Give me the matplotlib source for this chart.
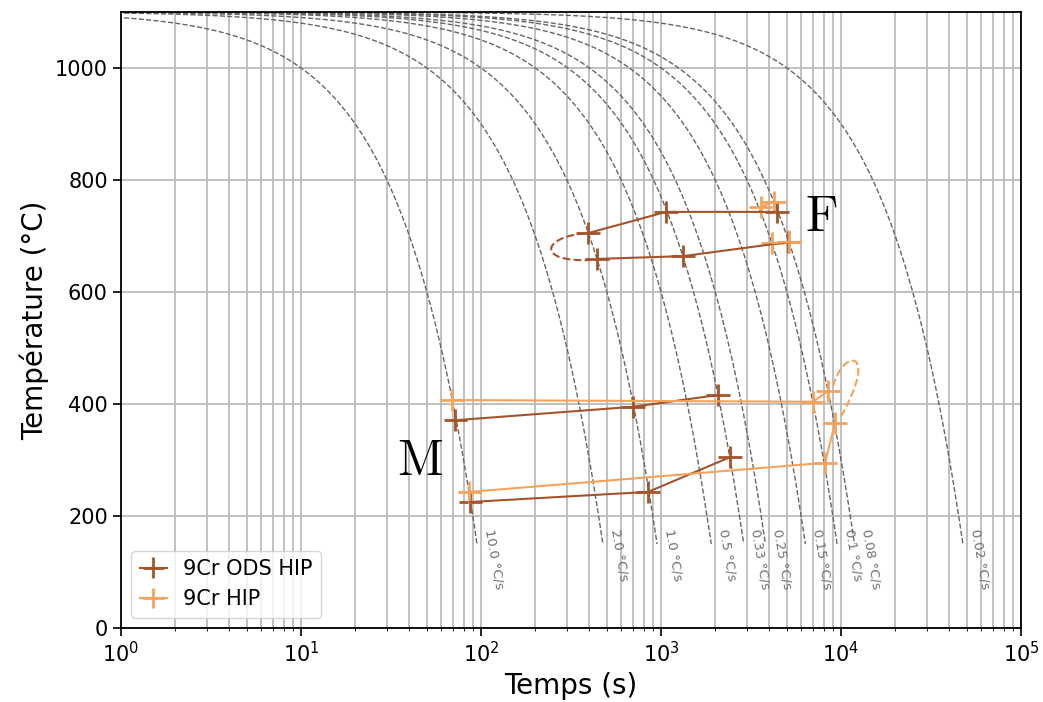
import matplotlib
matplotlib.use("Agg")
import matplotlib.pyplot as plt
import numpy as np
from matplotlib.path import Path
from matplotlib.patches import PathPatch

# cooling rates (°C/s) and their labels
rates = [10.0, 2.0, 1.0, 0.5, 0.33, 0.25, 0.15, 0.1, 0.08, 0.02]
rate_labels = ["10.0", "2.0", "1.0", "0.5", "0.33", "0.25", "0.15", "0.1", "0.08", "0.02"]
T_start = 1100
T_end = 150

# 9Cr ODS HIP (start / end of transformations)
ods_f_up_t = [393, 1066, 4408]
ods_f_up_T = [705, 743, 743]
ods_f_lo_t = [441, 1325, 5080]
ods_f_lo_T = [659, 664, 689]
ods_m_up_t = [72, 699, 2074]
ods_m_up_T = [371, 395, 416]
ods_m_lo_t = [87, 847, 2416]
ods_m_lo_T = [225, 243, 305]

# 9Cr HIP
hip_f_up_t = [3580, 4245]
hip_f_up_T = [752, 761]
hip_f_lo_t = [4140, 5150]
hip_f_lo_T = [687, 690]
hip_m_up_t = [69, 6984, 8467]
hip_m_up_T = [407, 404, 423]
hip_m_lo_t = [9261, 8150, 86]
hip_m_lo_T = [366, 295, 243]

# dashed closing curves (bezier control points, t / T)
ods_loop_t = [378, 215, 205, 403]
ods_loop_T = [705, 697, 653, 657]
hip_loop_t = [9030, 10300, 16500, 9870]
hip_loop_T = [432, 500, 500, 375]

x_err_factor = 1.16
T_err = 20

c_ods = "#a3542b"
c_hip = "#f5a35c"


def errbar(ax, t, T, color, label=None):
    t = np.array(t, dtype=float)
    xerr = [t - t / x_err_factor, t * x_err_factor - t]
    ax.errorbar(t, T, xerr=xerr, yerr=T_err, color=color, lw=1.5,
                elinewidth=2, capsize=0, label=label, zorder=3)


def loop(ax, t, T, color):
    verts = list(zip(t, T))
    path = Path(verts, [Path.MOVETO, Path.CURVE4, Path.CURVE4, Path.CURVE4])
    ax.add_patch(PathPatch(path, fill=False, ec=color, lw=1.5, ls="--", zorder=3))


fig = plt.figure(figsize=(10.43, 7.02), dpi=100)
ax = fig.add_axes([0.116, 0.1054, 0.863, 0.8776])

for r, lab in zip(rates, rate_labels):
    t_end = (T_start - T_end) / r
    t = np.logspace(-1, np.log10(t_end), 300)
    ax.plot(t, T_start - r * t, ls="--", color="#666666", lw=1, zorder=2)
    ax.text(t_end * 1.07, 178, lab + " °C/s", rotation=-80, ha="left", va="top",
            fontsize=9.5, color="#707070")

errbar(ax, ods_f_up_t, ods_f_up_T, c_ods, "9Cr ODS HIP")
errbar(ax, ods_f_lo_t, ods_f_lo_T, c_ods)
errbar(ax, ods_m_up_t, ods_m_up_T, c_ods)
errbar(ax, ods_m_lo_t, ods_m_lo_T, c_ods)
loop(ax, ods_loop_t, ods_loop_T, c_ods)

errbar(ax, hip_f_up_t, hip_f_up_T, c_hip, "9Cr HIP")
errbar(ax, hip_f_lo_t, hip_f_lo_T, c_hip)
errbar(ax, hip_m_up_t, hip_m_up_T, c_hip)
errbar(ax, hip_m_lo_t, hip_m_lo_T, c_hip)
loop(ax, hip_loop_t, hip_loop_T, c_hip)

ax.text(7834, 732, "F", fontsize=36, family="cmr10", ha="center", va="center")
ax.text(45.8, 296, "M", fontsize=36, family="cmr10", ha="center", va="center")

ax.set_xscale("log")
ax.set_xlim(1, 1e5)
ax.set_ylim(0, 1100)
ax.grid(True, which="both", color="#b5b5b5", lw=1.2)
ax.set_axisbelow(True)
ax.tick_params(labelsize=15, width=1.2)
ax.tick_params(which="major", length=6)
for s in ax.spines.values():
    s.set_linewidth(1.3)
ax.set_xlabel("Temps (s)", fontsize=20)
ax.set_ylabel("Température (°C)", fontsize=20)
ax.legend(loc="lower left", fontsize=15, handlelength=1.3)

fig.savefig("out.png", dpi=100)
